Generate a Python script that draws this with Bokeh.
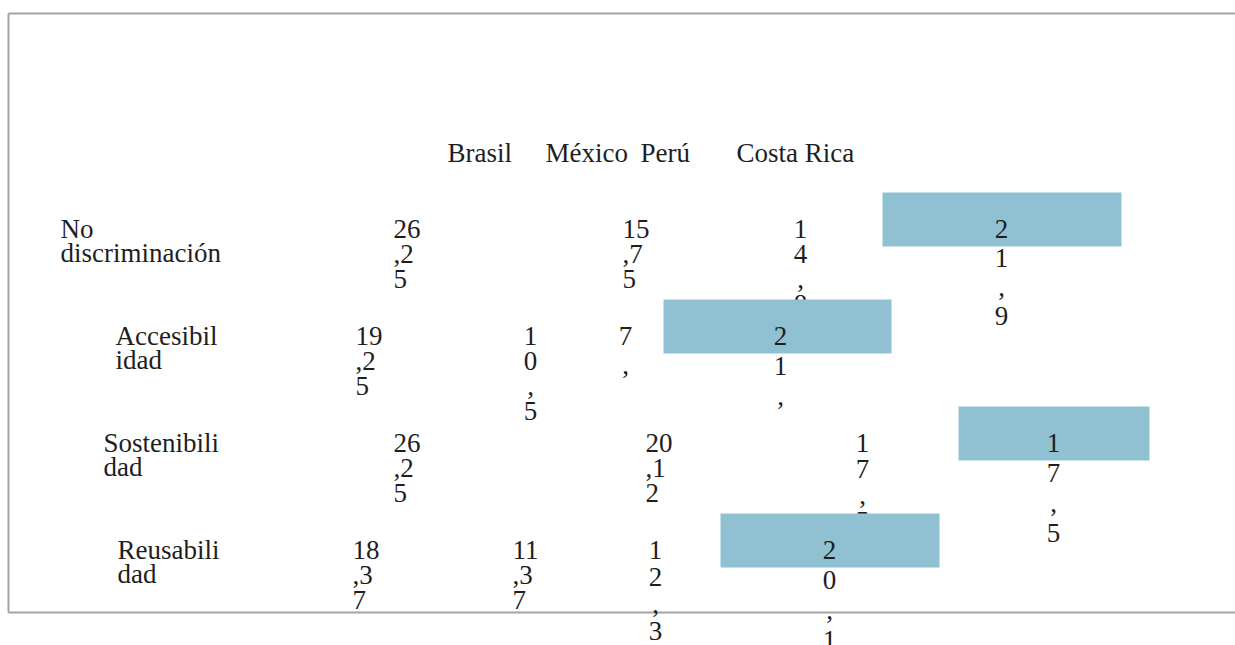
from bokeh.plotting import figure
from bokeh.models import Range1d, ColumnDataSource
from bokeh.core.properties import value
from bokeh.embed import file_html
from bokeh.resources import INLINE

# ---------------- data ----------------
countries = ["Brasil", "México", "Perú", "Costa Rica"]
criteria = ["No discriminación", "Accesibilidad", "Sostenibilidad", "Reusabilidad"]
criteria_wrapped = [["No", "discriminación"], ["Accesibil", "idad"],
                    ["Sostenibili", "dad"], ["Reusabili", "dad"]]
brasil = ["26,25", "19,25", "26,25", "18,37"]
mexico = ["15,75", "10,5", "20,12", "11,37"]
peru = ["14,8", "7,", "17,5", "12,3"]
costa_rica = ["21,9", "21,", "17,5", "20,1"]
series = [brasil, mexico, peru, costa_rica]
highlight_col = 3  # Costa Rica cells drawn on a coloured box

# ---------------- layout ----------------
ROW_Y0, ROW_STEP = 228, 107
HEADER_Y = 152
header_x = [447, 545, 640, 736]
label_x = [60, 115, 103, 117]
LABEL_LINE = 24
cell_x = [[393, 622, 800, 1001], [355, 530, 625, 780],
          [393, 645, 862, 1053], [352, 512, 655, 829]]
wrap = [[2, 2, 1, 1], [2, 1, 1, 1], [2, 2, 1, 1], [2, 2, 1, 1]]
spacing = [[25, 25, 25, 29], [25, 25, 29, 30], [25, 25, 26, 30], [25, 25, 27, 30]]
box_left = [882, 663, 958, 720]
box_right = [1121, 891, 1149, 939]
BOX_UP, BOX_DOWN = 36, 18
FONT = value("Liberation Serif")
FSIZE = "27px"
TXT = "#1e1e1e"
BOX_COLOR = "#8fc1d3"
FRAME = "#a3a3a3"

W, H = 1235, 645
p = figure(width=W, height=H, output_backend="svg", toolbar_location=None,
           x_range=Range1d(0, W), y_range=Range1d(H, 0),
           min_border=0, outline_line_color=None)
p.axis.visible = False
p.grid.visible = False
p.background_fill_color = "white"
p.border_fill_color = "white"

# frame (top, left, bottom)
p.segment(x0=[8, 8, 8], y0=[13, 13, 612], x1=[1240, 8, 1240], y1=[13, 612, 612],
          line_color=FRAME, line_width=2)

# header
p.text(x=header_x, y=[HEADER_Y] * len(countries), text=countries,
       text_font=FONT, text_font_size=FSIZE, text_color=TXT,
       text_baseline="middle", text_align="left")

# row labels
lx, ly, lt = [], [], []
for i, lines in enumerate(criteria_wrapped):
    y0 = ROW_Y0 + ROW_STEP * i
    for k, s in enumerate(lines):
        lx.append(label_x[i]); ly.append(y0 + k * LABEL_LINE); lt.append(s)
p.text(x=lx, y=ly, text=lt, text_font=FONT, text_font_size=FSIZE, text_color=TXT,
       text_baseline="middle", text_align="left")


def cell_lines(i, j):
    s = series[j][i]
    w = wrap[i][j]
    chunks = [s[k:k + w] for k in range(0, len(s), w)]
    y0 = ROW_Y0 + ROW_STEP * i
    return [(cell_x[i][j], y0 + k * spacing[i][j], c, "left" if w > 1 else "center")
            for k, c in enumerate(chunks)]


plain = dict(x=[], y=[], text=[], align=[])
boxed = dict(x=[], y=[], text=[], align=[])
for i in range(len(criteria)):
    for j in range(len(countries)):
        target = boxed if j == highlight_col else plain
        for x, y, c, a in cell_lines(i, j):
            target["x"].append(x); target["y"].append(y)
            target["text"].append(c); target["align"].append(a)

p.text(x="x", y="y", text="text", text_align="align", source=ColumnDataSource(plain),
       text_font=FONT, text_font_size=FSIZE, text_color=TXT, text_baseline="middle")

# highlight boxes
row_y = [ROW_Y0 + ROW_STEP * i for i in range(len(criteria))]
p.quad(left=box_left, right=box_right,
       top=[y - BOX_UP for y in row_y], bottom=[y + BOX_DOWN for y in row_y],
       fill_color=BOX_COLOR, line_color=None)

p.text(x="x", y="y", text="text", text_align="align", source=ColumnDataSource(boxed),
       text_font=FONT, text_font_size=FSIZE, text_color=TXT, text_baseline="middle")

open("out.html", "w").write(file_html(p, INLINE))
